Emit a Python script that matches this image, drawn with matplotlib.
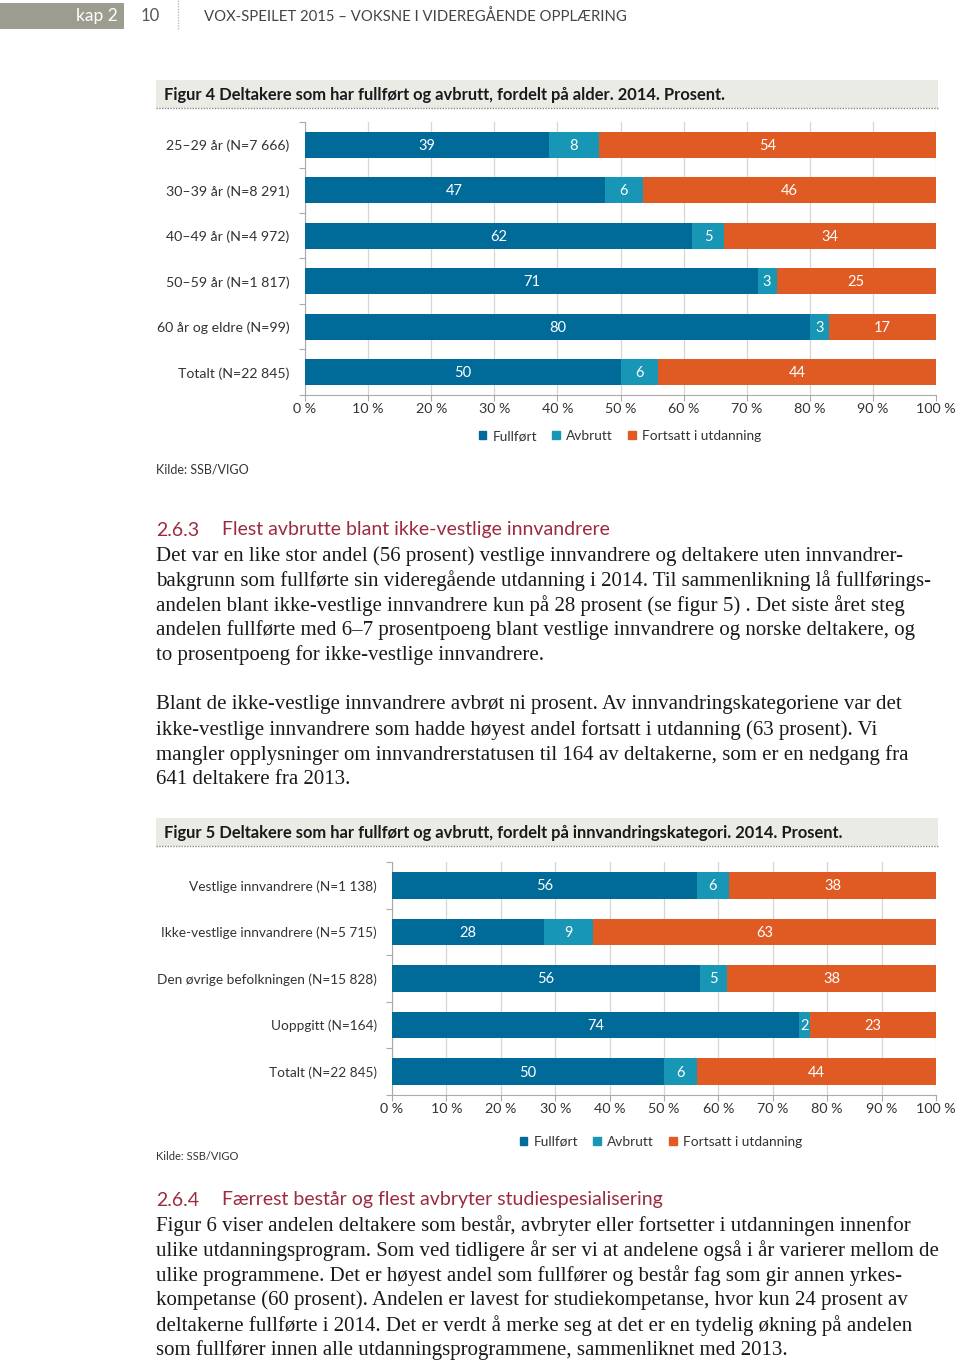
import matplotlib
matplotlib.use('Agg')
import matplotlib.pyplot as plt
from matplotlib.patches import Rectangle, Patch
from matplotlib.lines import Line2D
import numpy as np

# Figur 4: fordelt på alder (prosent)
ages = ['25–29 år (N=7 666)', '30–39 år (N=8 291)', '40–49 år (N=4 972)',
        '50–59 år (N=1 817)', '60 år og eldre (N=99)', 'Totalt (N=22 845)']
fullfort4 = [39, 47, 62, 71, 80, 50]
avbrutt4 = [8, 6, 5, 3, 3, 6]
fortsatt4 = [54, 46, 34, 25, 17, 44]

# Figur 5: fordelt på innvandringskategori (prosent)
grupper = ['Vestlige innvandrere (N=1 138)', 'Ikke-vestlige innvandrere (N=5 715)',
           'Den øvrige befolkningen (N=15 828)', 'Uoppgitt (N=164)', 'Totalt (N=22 845)']
fullfort5 = [56, 28, 56, 74, 50]
avbrutt5 = [6, 9, 5, 2, 6]
fortsatt5 = [38, 63, 38, 23, 44]

series = ['Fullført', 'Avbrutt', 'Fortsatt i utdanning']
colors = ['#006b99', '#1796b5', '#e05a24']
xticks = [0, 10, 20, 30, 40, 50, 60, 70, 80, 90, 100]

SANS = ['Lato', 'DejaVu Sans']
SERIF = ['Liberation Serif', 'DejaVu Serif']
HEAD_RED = '#9d2b3f'
TXT = '#333333'

W, H = 960, 1362
fig = plt.figure(figsize=(W / 100, H / 100), dpi=100)


def fx(x):
    return x / W


def fy(y):
    return 1 - y / H


def txt(x, y, s, **kw):
    kw.setdefault('va', 'center')
    fig.text(fx(x), fy(y), s, **kw)


def box(x0, y0, x1, y1, color):
    fig.patches.append(Rectangle((fx(x0), fy(y1)), (x1 - x0) / W, (y1 - y0) / H,
                                 transform=fig.transFigure, color=color, lw=0))


def title_box(y0, y1, s):
    box(156, y0, 938, y1, '#ebebe6')
    fig.lines.append(Line2D([fx(156), fx(938)], [fy(y1), fy(y1)], transform=fig.transFigure,
                            color='#888888', lw=1.0, ls=(0, (1, 1))))
    txt(164, (y0 + y1) / 2 + 1, s, family=SANS, fontweight='bold', fontsize=11.9, color='#1a1a1a')


def stacked(x0, y0, x1, y1, labels, full, avb, fort, lab_size):
    ax = fig.add_axes([fx(x0), fy(y1), (x1 - x0) / W, (y1 - y0) / H])
    vals = np.array([full, avb, fort], dtype=float)
    shares = vals / vals.sum(axis=0) * 100
    y = np.arange(len(labels))
    left = np.zeros(len(labels))
    for row, raw, col, name in zip(shares, vals, colors, series):
        ax.barh(y, row, left=left, height=0.57, color=col, edgecolor='none', zorder=3, label=name)
        for yi, l, w, r in zip(y, left, row, raw):
            ax.text(l + w / 2, yi + 0.02, f'{r:.0f}', ha='center', va='center', color='white',
                    fontsize=10.5, family=SANS, zorder=4)
        left += row
    ax.set_xlim(0, 100)
    ax.set_ylim(len(labels) - 0.5, -0.5)
    ax.set_yticks(y)
    ax.set_yticklabels(labels, family=SANS, fontsize=lab_size, color=TXT)
    ax.set_yticks(np.arange(len(labels) + 1) - 0.5, minor=True)
    ax.tick_params(axis='y', which='major', length=0, pad=11)
    ax.tick_params(axis='y', which='minor', length=4, color='#aaaaaa', width=0.8)
    ax.set_xticks(xticks)
    ax.set_xticklabels([f'{v} %' for v in xticks], family=SANS, fontsize=10.3, color=TXT)
    ax.tick_params(axis='x', length=4, color='#aaaaaa', width=0.8, pad=2)
    ax.xaxis.grid(True, color='#d6d6d6', lw=0.9, zorder=0)
    for s in ['top', 'right']:
        ax.spines[s].set_visible(False)
    for s in ['left', 'bottom']:
        ax.spines[s].set_color('#aaaaaa')
        ax.spines[s].set_linewidth(0.8)
    return ax


def legend(cx, cy):
    handles = [Patch(color=c, label=n) for c, n in zip(colors, series)]
    fig.legend(handles=handles, loc='center', bbox_to_anchor=(fx(cx), fy(cy)), ncol=3,
               frameon=False, handlelength=0.55, handleheight=0.55, handletextpad=0.45,
               columnspacing=1.1, prop={'family': SANS, 'size': 9.9}, labelcolor=TXT)


def paragraph(y, lines, step=24.8):
    for i, line in enumerate(lines):
        txt(156, y + i * step, line, family=SERIF, fontsize=15.05, color='#1a1a1a')


# ---- page header ----
box(0, 3, 124, 29, '#9d9c90')
txt(118, 16, 'kap 2', ha='right', family=SANS, fontsize=12.5, color='white')
txt(150, 16, '10', ha='center', family=SANS, fontsize=12, color='#555555')
fig.lines.append(Line2D([fx(178), fx(178)], [fy(0), fy(30)], transform=fig.transFigure,
                        color='#bbbbbb', lw=1.0, ls=(0, (1, 1))))
txt(204, 17, 'VOX-SPEILET 2015 – VOKSNE I VIDEREGÅENDE OPPLÆRING', family=SANS,
    fontsize=10.7, color='#444444')

# ---- figur 4 ----
title_box(80, 108, 'Figur 4 Deltakere som har fullført og avbrutt, fordelt på alder. 2014. Prosent.')
stacked(305, 122, 936, 395, ages, fullfort4, avbrutt4, fortsatt4, 10.2)
legend(620, 436)
txt(156, 470, 'Kilde: SSB/VIGO', family=SANS, fontsize=9.0, color=TXT)

# ---- 2.6.3 ----
txt(156, 530, '2.6.3', family=SANS, fontsize=14, color=HEAD_RED)
txt(222, 530, 'Flest avbrutte blant ikke-vestlige innvandrere', family=SANS, fontsize=14,
    color=HEAD_RED)
paragraph(556, [
    'Det var en like stor andel (56 prosent) vestlige innvandrere og deltakere uten innvandrer-',
    'bakgrunn som fullførte sin videregående utdanning i 2014. Til sammenlikning lå fullførings-',
    'andelen blant ikke-vestlige innvandrere kun på 28 prosent (se figur 5) . Det siste året steg',
    'andelen fullførte med 6–7 prosentpoeng blant vestlige innvandrere og norske deltakere, og',
    'to prosentpoeng for ikke-vestlige innvandrere.',
])
paragraph(705, [
    'Blant de ikke-vestlige innvandrere avbrøt ni prosent. Av innvandringskategoriene var det',
    'ikke-vestlige innvandrere som hadde høyest andel fortsatt i utdanning (63 prosent). Vi',
    'mangler opplysninger om innvandrerstatusen til 164 av deltakerne, som er en nedgang fra',
    '641 deltakere fra 2013.',
])

# ---- figur 5 ----
title_box(818, 846, 'Figur 5 Deltakere som har fullført og avbrutt, fordelt på innvandringskategori. 2014. Prosent.')
stacked(392, 862, 936, 1095, grupper, fullfort5, avbrutt5, fortsatt5, 9.8)
legend(661, 1142)
txt(156, 1157, 'Kilde: SSB/VIGO', family=SANS, fontsize=8.0, color=TXT)

# ---- 2.6.4 ----
txt(156, 1200, '2.6.4', family=SANS, fontsize=14, color=HEAD_RED)
txt(222, 1200, 'Færrest består og flest avbryter studiespesialisering', family=SANS, fontsize=14,
    color=HEAD_RED)
paragraph(1226, [
    'Figur 6 viser andelen deltakere som består, avbryter eller fortsetter i utdanningen innenfor',
    'ulike utdanningsprogram. Som ved tidligere år ser vi at andelene også i år varierer mellom de',
    'ulike programmene. Det er høyest andel som fullfører og består fag som gir annen yrkes-',
    'kompetanse (60 prosent). Andelen er lavest for studiekompetanse, hvor kun 24 prosent av',
    'deltakerne fullførte i 2014. Det er verdt å merke seg at det er en tydelig økning på andelen',
    'som fullfører innen alle utdanningsprogrammene, sammenliknet med 2013.',
])

fig.savefig('out.png', dpi=100, facecolor='white')
